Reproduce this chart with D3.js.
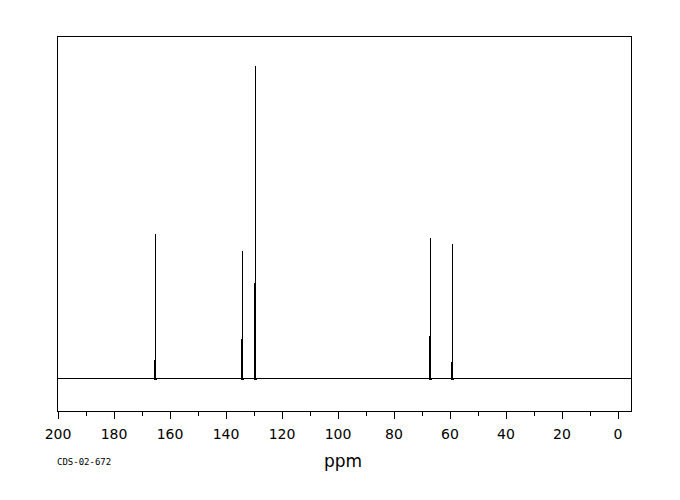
<!DOCTYPE html>
<html><head><meta charset="utf-8">
<script src="https://cdn.jsdelivr.net/npm/d3@7"></script>
<style>body{margin:0;background:#fff}svg{display:block}</style>
</head><body>
<svg id="c" width="680" height="500"></svg>
<script>
// Peak positions (ppm), peak heights (% of max), shoulder heights (%)
const peakPpm = [165.0, 133.9, 129.4, 66.8, 58.9];
const peakHeight = [46.2, 40.7, 100, 44.9, 42.9];
const shoulderHeight = [5.8, 12.5, 30.4, 13.5, 5.1];
const majorTicks = [200, 180, 160, 140, 120, 100, 80, 60, 40, 20, 0];
const minorTicks = [190, 170, 150, 130, 110, 90, 70, 50, 30, 10];
const xLabel = "ppm";
const codeLabel = "CDS-02-672";

const svg = d3.select("#c");
const L = 57, R = 631, T = 36, B = 411;
const x = d3.scaleLinear().domain([200, -5]).range([L, R]);
const y = d3.scaleLinear().domain([0, 100]).range([378, 66]);

// frame
svg.append("rect").attr("x", L + 0.5).attr("y", T + 0.5).attr("width", R - L).attr("height", B - T)
  .attr("fill", "none").attr("stroke", "#000").attr("stroke-width", 1).attr("shape-rendering", "crispEdges");

// spectrum path: baseline plus each peak (shoulder column, then main line)
const line = d3.line().x(d => Math.round(x(d[0])) + 0.5).y(d => Math.round(y(d[1])) + 0.5);
svg.append("path").attr("d", line([[200, 0], [-5, 0]])).attr("fill", "none").attr("stroke", "#000")
  .attr("stroke-width", 1).attr("shape-rendering", "crispEdges");
const g = svg.append("g");
peakPpm.forEach((p, i) => {
  const sx = Math.round(x(p)) - 1 + 0.5, mx = Math.round(x(p)) + 0.5;
  g.append("line").attr("x1", sx).attr("x2", sx).attr("y1", y(0) + 2).attr("y2", Math.round(y(shoulderHeight[i])))
    .attr("stroke", "#000").attr("shape-rendering", "crispEdges");
  g.append("line").attr("x1", mx).attr("x2", mx).attr("y1", y(0) + 2).attr("y2", Math.round(y(peakHeight[i])))
    .attr("stroke", "#000").attr("shape-rendering", "crispEdges");
  g.append("line").attr("x1", sx - 1).attr("x2", mx + 1).attr("y1", y(0) + 1.5).attr("y2", y(0) + 1.5)
    .attr("stroke", "#000").attr("shape-rendering", "crispEdges");
});

// axis
const ax = svg.append("g").attr("transform", `translate(0.5,${B + 0.5})`);
ax.call(d3.axisBottom(x).tickValues(majorTicks).tickSize(7).tickSizeOuter(0).tickFormat(d3.format("d")))
  .call(g => g.select(".domain").remove())
  .call(g => g.selectAll("text").attr("font-family", "DejaVu Sans, sans-serif").attr("font-size", 14)
    .attr("fill", "#000").attr("dy", "0").attr("y", 27));
ax.selectAll(".tick line").attr("stroke", "#000").attr("shape-rendering", "crispEdges");
const ax2 = svg.append("g").attr("transform", `translate(0.5,${B + 0.5})`);
ax2.call(d3.axisBottom(x).tickValues(minorTicks).tickSize(4).tickSizeOuter(0).tickFormat(""))
  .call(g => g.select(".domain").remove());
ax2.selectAll(".tick line").attr("stroke", "#000").attr("shape-rendering", "crispEdges");

svg.append("text").attr("x", 343).attr("y", 467).attr("text-anchor", "middle")
  .attr("font-family", "DejaVu Sans, sans-serif").attr("font-size", 17).attr("fill", "#000").text(xLabel);
svg.append("text").attr("x", 57).attr("y", 465)
  .attr("font-family", "DejaVu Sans Mono, monospace").attr("font-size", 9).text(codeLabel);
</script>
</body></html>
